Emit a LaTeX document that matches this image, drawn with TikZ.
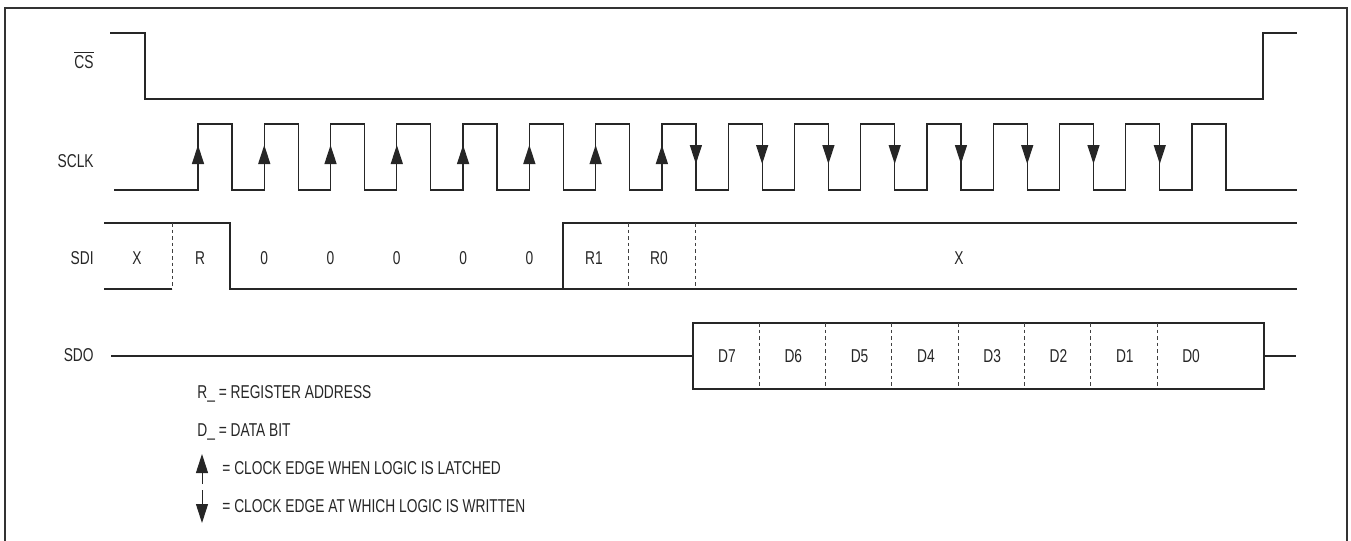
\documentclass[tikz,border=0pt]{standalone}
\usepackage{fontspec}
\setmainfont{Liberation Sans}[FakeStretch=0.74]
\usetikzlibrary{arrows.meta}
\tikzset{
  sigline/.style={draw=black!85, line width=0.65pt},
  sigdash/.style={draw=black!75, line width=0.5pt, dash pattern=on 1.8pt off 1.5pt},
  sigframe/.style={draw=black!80, line width=1pt},
  sigfont/.style={font=\fontsize{9.3}{11}\selectfont, text=black!85, inner sep=0pt},
  siglabel/.style={sigfont, anchor=base east},
  bitlabel/.style={sigfont, anchor=base},
  notelabel/.style={sigfont, anchor=base west},
  edgearrow/.style={sigline, -{Triangle[length=9.5pt,width=6pt]}},
}

\begin{document}
\begin{tikzpicture}[x=0.5pt, y=-0.5pt]
  \useasboundingbox (0,0) rectangle (1351,541);
  \draw[sigframe] (5,548) -- (5,8) -- (1347,8) -- (1347,548);

  % signal names
  \node[siglabel] (cslab) at (94,68) {$\overline{\hbox{CS}}$};
  \node[siglabel] (sclklab) at (94,167) {SCLK};
  \node[siglabel] (sdilab) at (94,264) {SDI};
  \node[siglabel] (sdolab) at (94,361) {SDO};

  % chip select
  \draw[sigline] (110,33) -- (145,33) -- (145,99) -- (1263,99) -- (1263,33) -- (1297,33);

  % clock
  \draw[sigline] (114,190) foreach \i in {0,...,15}{
      -- ({198+66.27*\i},190) -- ({198+66.27*\i},124)
      -- ({232+66.27*\i},124) -- ({232+66.27*\i},190)} -- (1297,190);
  \foreach \i in {0,...,7}
    \draw[edgearrow] ({198+66.27*\i},172) -- ({198+66.27*\i},145);
  \foreach \i in {7,...,14}
    \draw[edgearrow] ({232+66.27*\i},140) -- ({232+66.27*\i},164);

  % data in
  \draw[sigline] (104,289) -- (172,289);
  \draw[sigline] (104,223) -- (230,223) -- (230,289) -- (1297,289);
  \draw[sigline] (563,289) -- (563,223) -- (1297,223);
  \foreach \x in {172,628,695}
    \draw[sigdash] (\x,223) -- (\x,289);
  \node[bitlabel] (sdix) at (137,264) {X};
  \node[bitlabel] (sdir) at (200,264) {R};
  \foreach \i in {1,...,5}
    \node[bitlabel] (zero\i) at ({198+66.27*\i},264) {0};
  \node[bitlabel] (sdirone) at (594,264) {R1};
  \node[bitlabel] (sdirzero) at (659,264) {R0};
  \node[bitlabel] (sdirest) at (959,264) {X};

  % data out
  \draw[sigline] (111,356) -- (693,356);
  \draw[sigline] (693,323) rectangle (1264,389);
  \draw[sigline] (1264,356) -- (1296,356);
  \foreach \k in {1,...,7}
    \draw[sigdash] ({693+66.3*\k},323) -- ({693+66.3*\k},389);
  \foreach \n [count=\k from 0] in {7,6,...,0}
    \node[bitlabel] (dbit\n) at ({727+66.3*\k},362) {D\n};

  % legend
  \node[notelabel] (regnote) at (197,398) {R\_ = REGISTER ADDRESS};
  \node[notelabel] (datnote) at (197,436) {D\_ = DATA BIT};
  \draw[edgearrow, line width=0.5pt] (202,484) -- (202,454);
  \node[notelabel] (latnote) at (222,474) {= CLOCK EDGE WHEN LOGIC IS LATCHED};
  \draw[edgearrow, line width=0.5pt] (202,490) -- (202,523);
  \node[notelabel] (wrnote) at (222,512) {= CLOCK EDGE AT WHICH LOGIC IS WRITTEN};
\end{tikzpicture}
\end{document}
